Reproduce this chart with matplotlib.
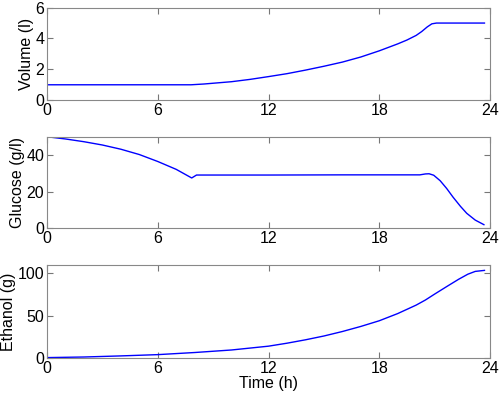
import matplotlib
matplotlib.use("Agg")
import matplotlib.pyplot as plt

plt.rcParams['font.family'] = ['Liberation Sans', 'DejaVu Sans']

# Volume (l)
vol_t = [0, 7.8, 8.5, 9, 10, 11, 12, 13, 14, 15, 16, 17, 18, 19, 19.5, 20, 20.3, 20.6, 20.85, 21.1, 23.7]
vol_v = [1.0, 1.0, 1.05, 1.1, 1.2, 1.35, 1.53, 1.72, 1.95, 2.2, 2.47, 2.8, 3.2, 3.65, 3.9, 4.2, 4.45, 4.75, 4.95, 5.0, 5.0]

# Glucose (g/l)
glu_t = [0, 1, 2, 3, 4, 5, 6, 7, 7.84, 8.1, 12, 16, 20.2, 20.5, 20.7, 20.95, 21.3, 21.65, 22.0, 22.4, 22.74, 23.2, 23.67]
glu_v = [50, 48.8, 47.3, 45.5, 43.2, 40.3, 36.5, 32.2, 27.5, 29.1, 29.1, 29.2, 29.2, 29.7, 29.8, 29.0, 26, 21.8, 17.0, 12.0, 8.2, 4.5, 2.0]

# Ethanol (g)
eth_t = [0, 2, 4, 6, 8, 10, 12, 13, 14, 15, 16, 17, 18, 19, 20, 20.5, 21, 21.7, 22.3, 22.8, 23.2, 23.7]
eth_v = [0.5, 1.2, 2.5, 4, 6.5, 9.5, 14, 17.5, 21.5, 26, 31.3, 37.3, 44, 52.5, 62.5, 68.5, 75.5, 85, 93, 99, 102.3, 103.5]

xticks = [0, 6, 12, 18, 24]

fig = plt.figure(figsize=(5.0, 3.93), dpi=100)
positions = [[0.094, 0.745, 0.886, 0.2356],
             [0.094, 0.419, 0.886, 0.233],
             [0.094, 0.089, 0.886, 0.237]]
series = [(vol_t, vol_v, 'Volume (l)', (0, 6), [0, 2, 4, 6]),
          (glu_t, glu_v, 'Glucose (g/l)', (0, 50), [0, 20, 40]),
          (eth_t, eth_v, 'Ethanol (g)', (0, 110), [0, 50, 100])]

for pos, (t, v, lab, yl, yt) in zip(positions, series):
    ax = fig.add_axes(pos)
    ax.plot(t, v, color='#0000ff', lw=1.0)
    ax.set_xlim(0, 24)
    ax.set_ylim(*yl)
    ax.set_xticks(xticks)
    ax.set_yticks(yt)
    ax.set_ylabel(lab, fontsize=11.5, labelpad=1)
    ax.tick_params(direction='in', which='both', top=True, right=True,
                   length=4, color='#777777', labelsize=11.5, pad=2)
    for s in ax.spines.values():
        s.set_color('#888888')
        s.set_linewidth(0.8)
    if lab.startswith('Ethanol'):
        ax.set_xlabel('Time (h)', fontsize=11.5, labelpad=0.5)

fig.savefig('out.png', dpi=100)
